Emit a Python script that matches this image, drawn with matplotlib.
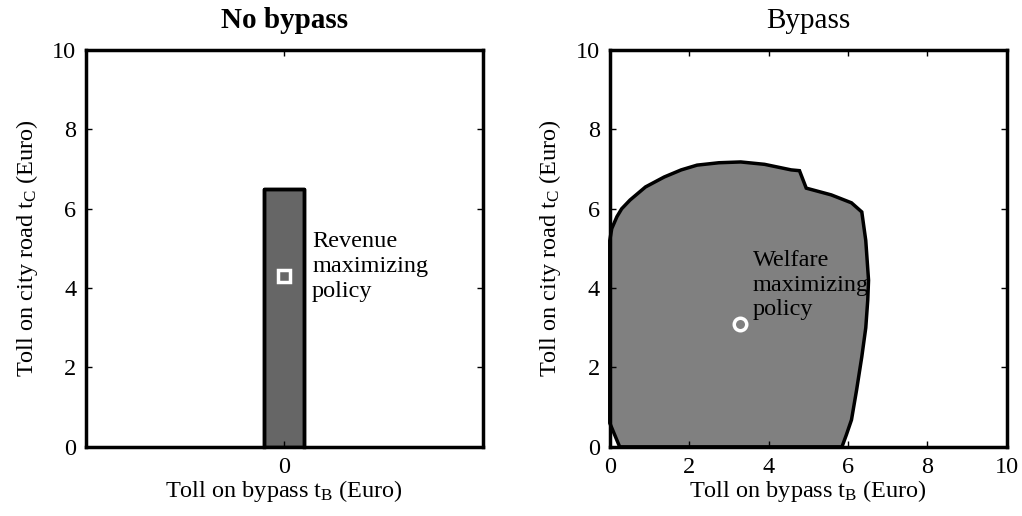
import matplotlib.pyplot as plt

plt.rcParams['font.family'] = ['Liberation Serif', 'DejaVu Serif']
plt.rcParams['mathtext.fontset'] = 'custom'
plt.rcParams['mathtext.rm'] = 'Liberation Serif'
plt.rcParams['mathtext.it'] = 'Liberation Serif'
plt.rcParams['font.size'] = 17.5

# No bypass: feasible range of city-road toll at t_B = 0
nb_tb = [-0.1, 0.1]
nb_tc_max = 6.5
revenue_opt = (0.0, 4.3)

# Bypass: boundary of the feasible region (t_B, t_C)
region_tb = [0.0, 0.0, 0.05, 0.18, 0.3, 0.51, 0.9, 1.37, 1.8, 2.2, 2.75, 3.3, 3.9,
             4.57, 4.78, 4.95, 5.58, 6.09, 6.35, 6.45, 6.52, 6.5, 6.45, 6.35, 6.22,
             6.09, 5.96, 5.85, 0.25, 0.0]
region_tc = [0.6, 5.2, 5.5, 5.8, 6.0, 6.22, 6.55, 6.8, 6.98, 7.1, 7.16, 7.18, 7.12,
             6.98, 6.96, 6.52, 6.35, 6.15, 5.92, 5.2, 4.2, 3.7, 3.0, 2.27, 1.44,
             0.68, 0.3, 0.0, 0.0, 0.6]
welfare_opt = (3.27, 3.1)

fig, (ax1, ax2) = plt.subplots(1, 2, figsize=(10.22, 5.16), dpi=100)
fig.subplots_adjust(left=0.084, right=0.985, bottom=0.134, top=0.903, wspace=0.32)

ax1.fill_between(nb_tb, 0, nb_tc_max, facecolor='#666666', edgecolor='black', linewidth=2.5)
ax1.plot([nb_tb[0], nb_tb[0], nb_tb[1], nb_tb[1]], [0, nb_tc_max, nb_tc_max, 0],
         color='black', linewidth=2.5, clip_on=False)
ax1.plot(*revenue_opt, marker='s', markersize=8, markerfacecolor='#666666',
         markeredgecolor='white', markeredgewidth=2.5, linestyle='none')
ax1.text(0.14, 5.45, 'Revenue\nmaximizing\npolicy', va='top', ha='left', linespacing=1.25)
ax1.set_xlim(-1, 1)
ax1.set_ylim(0, 10)
ax1.set_xticks([0])
ax1.set_yticks([0, 2, 4, 6, 8, 10])
ax1.set_title('No bypass', fontweight='bold', pad=16)

ax2.fill(region_tb, region_tc, facecolor='#808080', edgecolor='black', linewidth=2.5,
         clip_on=False)
ax2.plot(*welfare_opt, marker='o', markersize=9, markerfacecolor='#808080',
         markeredgecolor='white', markeredgewidth=2.5, linestyle='none')
ax2.text(3.6, 4.95, 'Welfare\nmaximizing\npolicy', va='top', ha='left', linespacing=1.2)
ax2.set_xlim(0, 10)
ax2.set_ylim(0, 10)
ax2.set_xticks([0, 2, 4, 6, 8, 10])
ax2.set_yticks([0, 2, 4, 6, 8, 10])
ax2.set_title('Bypass', pad=16)

for ax in (ax1, ax2):
    ax.set_xlabel('Toll on bypass t$_\\mathrm{B}$ (Euro)', labelpad=0)
    ax.set_ylabel('Toll on city road t$_\\mathrm{C}$ (Euro)', labelpad=9)
    ax.tick_params(direction='in', top=True, right=True, length=4, width=1, pad=7)
    for s in ax.spines.values():
        s.set_linewidth(2.5)

plt.savefig('out.png')
